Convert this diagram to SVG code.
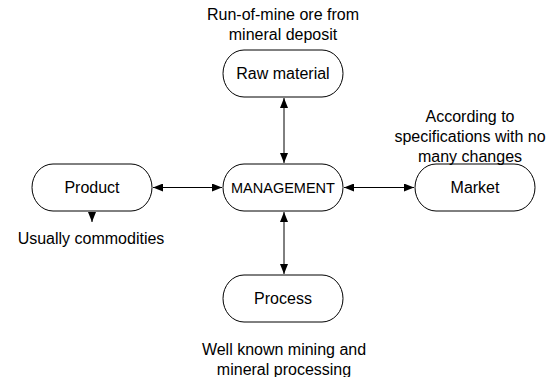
<svg xmlns="http://www.w3.org/2000/svg" width="557" height="377" viewBox="0 0 557 377">
<style>
.n{fill:#fff;stroke:#000;stroke-width:1}
.t{font-family:"Liberation Sans",Arial,sans-serif;font-size:16px;fill:#000;text-anchor:middle}
.c{stroke:#000;stroke-width:1;fill:none;marker-start:url(#a);marker-end:url(#a)}
</style>
<defs>
<marker id="a" viewBox="0 0 10 8" refX="10" refY="4" markerWidth="10" markerHeight="8" markerUnits="userSpaceOnUse" orient="auto-start-reverse">
<path d="M0,0L10,4L0,8z" fill="#000"/>
</marker>
</defs>
<rect width="557" height="377" fill="#fff"/>
<g id="connectors">
<path class="c" d="M284,98V163"/>
<path class="c" d="M284,212V274"/>
<path class="c" d="M153,187.5H222"/>
<path class="c" d="M344,187.5H414"/>
<path d="M92,212V222" stroke="#000" fill="none" marker-end="url(#a)"/>
</g>
<g id="raw">
<rect class="n" x="223" y="50" width="120" height="47" rx="21" ry="23.5"/>
<text class="t" x="283" y="79">Raw material</text>
<text class="t" x="283" y="20">Run-of-mine ore from</text>
<text class="t" x="283" y="40">mineral deposit</text>
</g>
<g id="management">
<rect class="n" x="223" y="164" width="120" height="47" rx="21" ry="23.5"/>
<text class="t" x="283" y="193" style="font-size:14.5px">MANAGEMENT</text>
</g>
<g id="process">
<rect class="n" x="223" y="275" width="120" height="47" rx="21" ry="23.5"/>
<text class="t" x="283" y="304">Process</text>
<text class="t" x="284" y="355">Well known mining and</text>
<text class="t" x="284" y="375">mineral processing</text>
</g>
<g id="product">
<rect class="n" x="32" y="164" width="120" height="47" rx="21" ry="23.5"/>
<text class="t" x="92" y="193">Product</text>
<text class="t" x="91" y="244">Usually commodities</text>
</g>
<g id="market">
<rect class="n" x="415" y="164" width="120" height="47" rx="21" ry="23.5"/>
<text class="t" x="475" y="193">Market</text>
<text class="t" x="470" y="122">According to</text>
<text class="t" x="470" y="142">specifications with no</text>
<text class="t" x="470" y="162">many changes</text>
</g>
</svg>
